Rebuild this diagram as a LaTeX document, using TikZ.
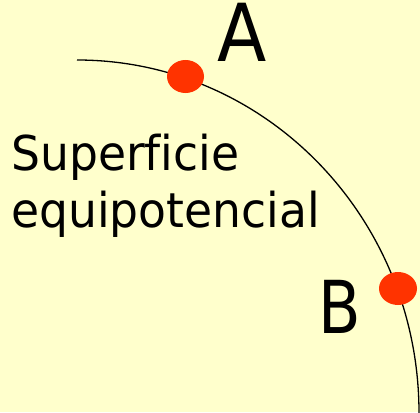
\documentclass[tikz,border=0pt]{standalone}
\usepackage{fontspec}
\setmainfont{DejaVu Sans}[Ligatures={NoCommon}]
\definecolor{bg}{HTML}{FFFFCC}
\definecolor{dotred}{HTML}{FF3300}
\begin{document}
\begin{tikzpicture}[x=1pt,y=-1pt,
  lbl/.style={inner sep=0pt,anchor=base west}]
\fill[bg] (0,0) rectangle (420,412);
\useasboundingbox (0,0) rectangle (420,412);
\draw[line width=1.3pt] (77,60) arc[start angle=90,end angle=0,x radius=342,y radius=-353];
\fill[dotred] (185.5,76.5) ellipse[x radius=18.5,y radius=16.5];
\fill[dotred] (398,288.5) ellipse[x radius=19,y radius=16.5];
\node[lbl] (a) at (217,62) {\fontsize{80}{80}\selectfont\scalebox{0.9}[1]{A}};
\node[lbl] (b) at (318,333) {\fontsize{73}{73}\selectfont\scalebox{0.85}[1]{B}};
\node[lbl] (s1) at (11,170) {\fontsize{48}{48}\selectfont\scalebox{0.95}[1]{Superficie}};
\node[lbl] (s2) at (11,227) {\fontsize{48}{48}\selectfont\scalebox{0.95}[1]{equipotencial}};
\end{tikzpicture}
\end{document}
